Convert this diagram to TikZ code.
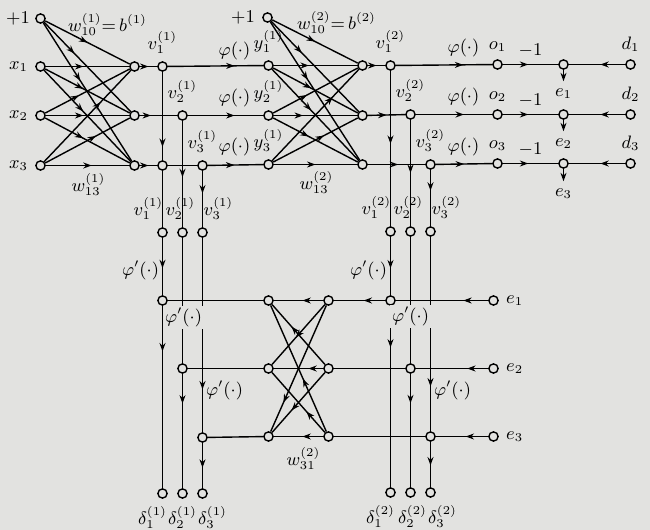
\documentclass[tikz,border=0pt]{standalone}
\usepackage{amsmath}
\usetikzlibrary{arrows.meta, decorations.markings}
\definecolor{paper}{RGB}{226,226,224}

\begin{document}
\begin{tikzpicture}[
x=0.5pt, y=-0.5pt,
line width=0.7pt,
>={Stealth[length=4.2pt,width=3pt]},
font=\small,
nd/.style={circle,draw,fill=paper,inner sep=0pt,minimum size=4.6pt},
arr/.style={postaction={decorate},decoration={markings,mark=at position #1 with {\arrow{Stealth[length=4.2pt,width=3pt]}}}},
arr/.default=0.5,
gap/.style={fill=paper,inner sep=1pt},
]
\useasboundingbox (0,0) rectangle (650,530);
\fill[paper] (0,0) rectangle (650,530);
\begin{scope}[shift={(0.5,0.5)}]

%% forward pass, first layer
% nodes
\node[nd,label={[label distance=-1pt]left:$+1$}] (p1) at (40,18) {};
\node[nd,label={left:$x_1$}] (x1) at (40,66) {};
\node[nd,label={left:$x_2$}] (x2) at (40,115) {};
\node[nd,label={left:$x_3$}] (x3) at (40,165) {};
\node[nd] (s11) at (134,66) {};
\node[nd] (s12) at (134,115) {};
\node[nd] (s13) at (134,165) {};
\node[nd,label={above:$v_1^{(1)}$}] (v11) at (162,66) {};
\node[nd,label={above:$v_2^{(1)}$}] (v12) at (182,115) {};
\node[nd] (c13) at (162,165) {};
\node[nd,label={above:$v_3^{(1)}$}] (v13) at (202,165) {};
\node (w101) at (107,24) {$w_{10}^{(1)}{=}\,b^{(1)}$};
\node (w131) at (88,184) {$w_{13}^{(1)}$};
% arrows
\draw[arr] (p1) -- (s11);
\draw[arr=0.35] (p1) -- (s12);
\draw[arr=0.42] (p1) -- (s13);
\draw[arr=0.45] (x1) -- (s11);
\draw[arr=0.45] (x1) -- (s12);
\draw[arr=0.45] (x1) -- (s13);
\draw[arr=0.4] (x2) -- (s11);
\draw[arr=0.45] (x2) -- (s12);
\draw[arr=0.45] (x2) -- (s13);
\draw[arr=0.65] (x3) -- (s11);
\draw[arr=0.6] (x3) -- (s12);
\draw[arr=0.55] (x3) -- (s13);
\draw[arr] (s11) -- (v11);
\draw[arr=0.3] (s12) -- (v12);
\draw[arr] (s13) -- (c13);
\draw (c13) -- (v13);
\draw[arr=0.85] (v11) -- (c13);

%% forward pass, second layer
% nodes
\node[nd,label={above:$y_1^{(1)}$}] (y1) at (268,65) {};
\node[nd,label={above:$y_2^{(1)}$}] (y2) at (268,115) {};
\node[nd,label={above:$y_3^{(1)}$}] (y3) at (268,164) {};
\node[nd,label={left:$+1$}] (p2) at (267,17) {};
\node[nd] (s21) at (362,65) {};
\node[nd] (s22) at (362,115) {};
\node[nd] (s23) at (362,164) {};
\node[nd,label={above:$v_1^{(2)}$}] (v21) at (390,65) {};
\node[nd,label={above:$v_2^{(2)}$}] (v22) at (410,114) {};
\node[nd,label={above:$v_3^{(2)}$}] (v23) at (430,164) {};
\node (f11) at (234,50) {$\varphi(\cdot)$};
\node (f12) at (234,98) {$\varphi(\cdot)$};
\node (f13) at (234,146) {$\varphi(\cdot)$};
\node (w102) at (336,22) {$w_{10}^{(2)}{=}\,b^{(2)}$};
\node (w132) at (316,182) {$w_{13}^{(2)}$};
% arrows
\draw[arr=0.7] (v11) -- (y1);
\draw[arr=0.62] (v12) -- (y2);
\draw[arr=0.48] (v13) -- (y3);
\draw[arr] (p2) -- (s21);
\draw[arr=0.35] (p2) -- (s22);
\draw[arr=0.42] (p2) -- (s23);
\draw[arr=0.42] (y1) -- (s21);
\draw[arr=0.45] (y1) -- (s22);
\draw[arr=0.45] (y1) -- (s23);
\draw[arr=0.4] (y2) -- (s21);
\draw[arr=0.35] (y2) -- (s22);
\draw[arr=0.42] (y2) -- (s23);
\draw[arr=0.7] (y3) -- (s21);
\draw[arr=0.6] (y3) -- (s22);
\draw[arr=0.5] (y3) -- (s23);
\draw[arr] (s21) -- (v21);
\draw[arr] (s22) -- (v22);
\draw[arr=0.53] (s23) -- (v23);

%% outputs and errors
% nodes
\node[nd,label={above:$o_1$}] (o1) at (497,64) {};
\node[nd,label={above:$o_2$}] (o2) at (497,114) {};
\node[nd,label={above:$o_3$}] (o3) at (497,163) {};
\node[nd] (n1) at (563,64) {};
\node[nd] (n2) at (563,114) {};
\node[nd] (n3) at (563,163) {};
\node[nd,label={above:$d_1$}] (d1) at (630,64) {};
\node[nd,label={above:$d_2$}] (d2) at (630,114) {};
\node[nd,label={above:$d_3$}] (d3) at (630,163) {};
\node (e1) at (563,93) {$e_1$};
\node (e2) at (563,143) {$e_2$};
\node (e3) at (563,193) {$e_3$};
\node (f21) at (463,48) {$\varphi(\cdot)$};
\node (f22) at (463,97) {$\varphi(\cdot)$};
\node (f23) at (463,146) {$\varphi(\cdot)$};
% arrows
\draw[arr=0.7] (v21) -- (o1);
\draw[arr=0.63] (v22) -- (o2);
\draw[arr=0.5] (v23) -- (o3);
\draw[arr=0.46] (o1) -- node[above] {$-1$} (n1);
\draw[arr=0.46] (o2) -- node[above] {$-1$} (n2);
\draw[arr=0.46] (o3) -- node[above] {$-1$} (n3);
\draw[arr=0.44] (d1) -- (n1);
\draw[arr=0.44] (d2) -- (n2);
\draw[arr=0.44] (d3) -- (n3);
\draw[->] (n1) -- (e1);
\draw[->] (n2) -- (e2);
\draw[->] (n3) -- (e3);

%% backward pass, second layer
% nodes
\node[nd,label={[xshift=-7pt]above:$v_1^{(2)}$}] (u21) at (390,231) {};
\node[nd,label={[xshift=-1pt]above:$v_2^{(2)}$}] (u22) at (410,231) {};
\node[nd,label={[xshift=8pt]above:$v_3^{(2)}$}] (u23) at (430,231) {};
\node[nd] (b21) at (390,300) {};
\node[nd] (b22) at (410,368) {};
\node[nd] (b23) at (430,436) {};
\node[nd,label={right:$e_1$}] (en1) at (493,300) {};
\node[nd,label={right:$e_2$}] (en2) at (493,368) {};
\node[nd,label={right:$e_3$}] (en3) at (493,436) {};
\node[nd,label={[xshift=-5pt]below:$\delta_1^{(2)}$}] (dl21) at (390,492) {};
\node[nd,label={[xshift=1pt]below:$\delta_2^{(2)}$}] (dl22) at (410,492) {};
\node[nd,label={[xshift=6pt]below:$\delta_3^{(2)}$}] (dl23) at (430,492) {};
% arrows
\draw[arr=0.47] (v21) -- (u21);
\draw[arr=0.5] (v22) -- (u22);
\draw[arr=0.37] (v23) -- (u23);
\draw[arr=0.54] (u21) -- (b21);
\draw[arr=0.71] (u22) -- (b22);
\draw[arr=0.77] (u23) -- (b23);
\draw[arr=0.23] (b21) -- (dl21);
\draw[arr=0.26] (b22) -- (dl22);
\draw[arr=0.52] (b23) -- (dl23);
\draw[arr=0.27] (en1) -- (b21);
\draw[arr=0.29] (en2) -- (b22);
\draw[arr=0.43] (en3) -- (b23);

%% backward weights
% nodes
\node[nd] (r1) at (328,300) {};
\node[nd] (r2) at (328,368) {};
\node[nd] (r3) at (328,436) {};
\node[nd] (l1) at (268,300) {};
\node[nd] (l2) at (268,368) {};
\node[nd] (l3) at (268,436) {};
\node (w312) at (303,458) {$w_{31}^{(2)}$};
% arrows
\draw[arr=0.42] (b21) -- (r1);
\draw (b22) -- (r2);
\draw (b23) -- (r3);
\draw[arr=0.42] (r1) -- (l1);
\draw[arr=0.3] (r2) -- (l2);
\draw[arr=0.42] (r3) -- (l3);
\draw[arr=0.55] (r1) -- (l2);
\draw[arr=0.77] (r1) -- (l3);
\draw[arr=0.63] (r2) -- (l1);
\draw[arr=0.63] (r2) -- (l3);
\draw[arr=0.42] (r3) -- (l1);
\draw[arr=0.35] (r3) -- (l2);

%% backward pass, first layer
% nodes
\node[nd,label={[xshift=-7pt]above:$v_1^{(1)}$}] (u11) at (162,232) {};
\node[nd,label={[xshift=-1pt]above:$v_2^{(1)}$}] (u12) at (182,232) {};
\node[nd,label={[xshift=8pt]above:$v_3^{(1)}$}] (u13) at (202,232) {};
\node[nd] (b11) at (162,300) {};
\node[nd] (b12) at (182,368) {};
\node[nd] (b13) at (202,437) {};
\node[nd,label={[xshift=-5pt]below:$\delta_1^{(1)}$}] (dl11) at (162,493) {};
\node[nd,label={below:$\delta_2^{(1)}$}] (dl12) at (182,493) {};
\node[nd,label={[xshift=5pt]below:$\delta_3^{(1)}$}] (dl13) at (202,493) {};
% arrows
\draw (c13) -- (u11);
\draw[arr=0.53] (v12) -- (u12);
\draw[arr=0.4] (v13) -- (u13);
\draw[arr=0.53] (u11) -- (b11);
\draw[arr=0.74] (u12) -- (b12);
\draw[arr=0.78] (u13) -- (b13);
\draw[arr=0.25] (b11) -- (dl11);
\draw[arr=0.26] (b12) -- (dl12);
\draw[arr=0.55] (b13) -- (dl13);
\draw (l1) -- (b11);
\draw (l2) -- (b12);
\draw (l3) -- (b13);

% derivative labels
\node (g11) at (140,270) {$\varphi'(\cdot)$};
\node[gap] (g12) at (183,317) {$\varphi'(\cdot)$};
\node (g13) at (224,390) {$\varphi'(\cdot)$};
\node (g21) at (368,270) {$\varphi'(\cdot)$};
\node[gap] (g22) at (410,316) {$\varphi'(\cdot)$};
\node (g23) at (452,390) {$\varphi'(\cdot)$};
\end{scope}
\end{tikzpicture}
\end{document}
